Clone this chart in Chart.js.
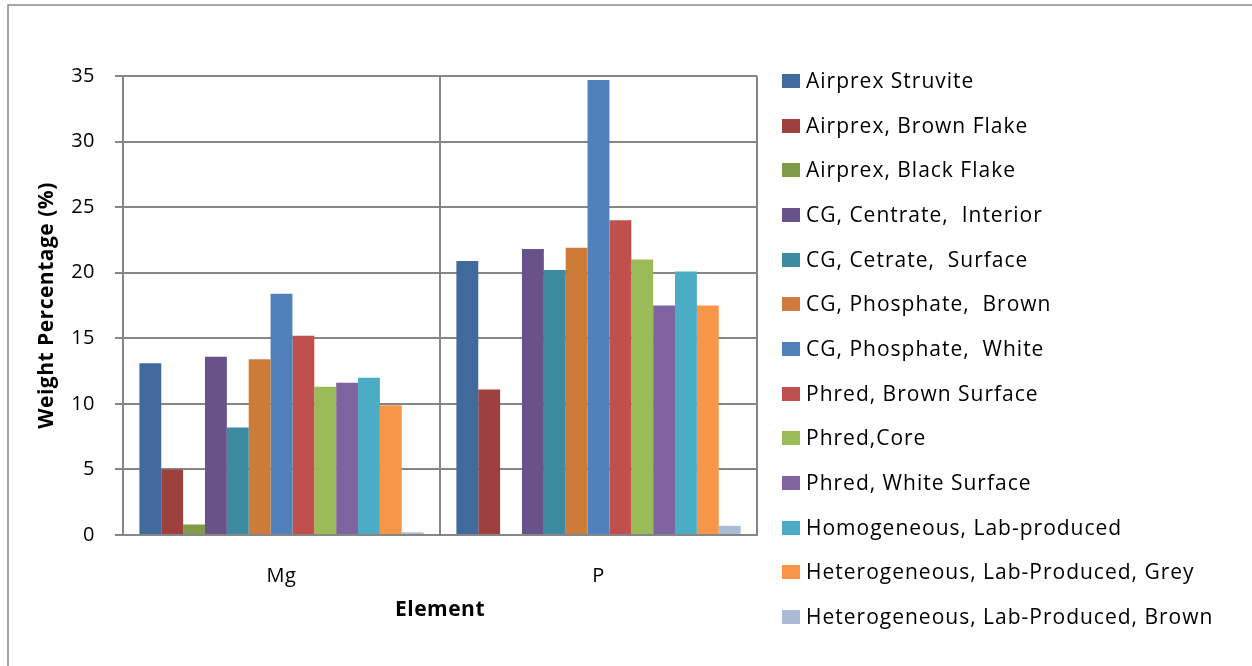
<!DOCTYPE html>
<html>
<head>
<meta charset="utf-8">
<script src="https://cdn.jsdelivr.net/npm/chart.js@4/dist/chart.umd.min.js"></script>
<style>
html,body{margin:0;padding:0;background:#fff;}
canvas{display:block;}
</style>
</head>
<body>
<canvas id="c" width="1252" height="666"></canvas>
<script>
const categories = ['Mg', 'P'];
const seriesNames = [
  'Airprex Struvite',
  'Airprex, Brown Flake',
  'Airprex, Black Flake',
  'CG, Centrate,  Interior',
  'CG, Cetrate,  Surface',
  'CG, Phosphate,  Brown',
  'CG, Phosphate,  White',
  'Phred, Brown Surface',
  'Phred,Core',
  'Phred, White Surface',
  'Homogeneous, Lab-produced',
  'Heterogeneous, Lab-Produced, Grey',
  'Heterogeneous, Lab-Produced, Brown'
];
const airprexStruvite    = [13.1, 20.9];
const airprexBrownFlake  = [5.0, 11.1];
const airprexBlackFlake  = [0.8, 0];
const cgCentrateInterior = [13.6, 21.8];
const cgCetrateSurface   = [8.2, 20.2];
const cgPhosphateBrown   = [13.4, 21.9];
const cgPhosphateWhite   = [18.4, 34.7];
const phredBrownSurface  = [15.2, 24.0];
const phredCore          = [11.3, 21.0];
const phredWhiteSurface  = [11.6, 17.5];
const homogeneousLab     = [12.0, 20.1];
const heteroGrey         = [9.9, 17.5];
const heteroBrown        = [0.2, 0.7];
const yTicks = [0, 5, 10, 15, 20, 25, 30, 35];

const seriesValues = [airprexStruvite, airprexBrownFlake, airprexBlackFlake, cgCentrateInterior,
  cgCetrateSurface, cgPhosphateBrown, cgPhosphateWhite, phredBrownSurface, phredCore,
  phredWhiteSurface, homogeneousLab, heteroGrey, heteroBrown];
const colors = ['#3F6A9B', '#9E403E', '#7F9B48', '#69528A', '#3C8BA2', '#CC7B38',
  '#4F81BD', '#C0504D', '#9BBB59', '#8064A2', '#4BACC6', '#F79646', '#AABAD7'];

const FONT = '"Open Sans", Lato, sans-serif';
const gridColor = '#868686';

const legendPlugin = {
  id: 'customLegend',
  beforeDraw(chart) {
    chart.ctx.letterSpacing = '0.5px';
  },
  afterDraw(chart) {
    const ctx = chart.ctx;
    ctx.save();
    ctx.font = '21px ' + FONT;
    ctx.letterSpacing = '1px';
    ctx.textBaseline = 'middle';
    ctx.textAlign = 'left';
    chart.data.datasets.forEach((ds, i) => {
      const y = 81 + i * 44.67;
      ctx.fillStyle = ds.backgroundColor;
      ctx.fillRect(782, Math.round(y - 7), 18, 14);
      ctx.fillStyle = '#000';
      ctx.fillText(ds.label, 806, y + 1);
    });
    // outer frame (left and top edges)
    ctx.strokeStyle = '#8a8a8a';
    ctx.lineWidth = 1.5;
    ctx.beginPath();
    ctx.moveTo(8, 666);
    ctx.lineTo(8, 5);
    ctx.lineTo(1252, 5);
    ctx.stroke();
    ctx.restore();
  }
};

new Chart(document.getElementById('c'), {
  type: 'bar',
  data: {
    labels: categories,
    datasets: seriesNames.map((name, i) => ({
      label: name,
      data: seriesValues[i],
      backgroundColor: colors[i],
      borderWidth: 0,
      categoryPercentage: 13 / 14.5,
      barPercentage: 1.0
    }))
  },
  options: {
    responsive: false,
    animation: false,
    layout: { padding: { left: 0, right: 495, top: 76, bottom: 0 } },
    plugins: {
      legend: { display: false },
      tooltip: { enabled: false }
    },
    scales: {
      x: {
        afterFit(scale) { scale.height = 131; },
        grid: { color: gridColor, lineWidth: 2, drawTicks: false, offset: true },
        border: { color: gridColor, width: 2 },
        ticks: { color: '#000', font: { family: FONT, size: 20 }, padding: 29 },
        title: { display: true, text: 'Element', color: '#000',
                 font: { family: FONT, size: 21, weight: 'bold' }, padding: { top: 0, bottom: 43 } }
      },
      y: {
        min: 0, max: 35,
        afterFit(scale) { scale.width = 123; },
        afterBuildTicks(scale) { scale.ticks = yTicks.map(v => ({ value: v })); },
        grid: { color: gridColor, lineWidth: 2, drawTicks: true, tickLength: 8 },
        border: { color: gridColor, width: 2 },
        ticks: { color: '#000', font: { family: FONT, size: 20 }, padding: 20 },
        title: { display: true, text: 'Weight Percentage (%)', color: '#000',
                 font: { family: FONT, size: 21, weight: 'bold' }, padding: { top: 34, bottom: 0 } }
      }
    }
  },
  plugins: [legendPlugin]
});
</script>
</body>
</html>
